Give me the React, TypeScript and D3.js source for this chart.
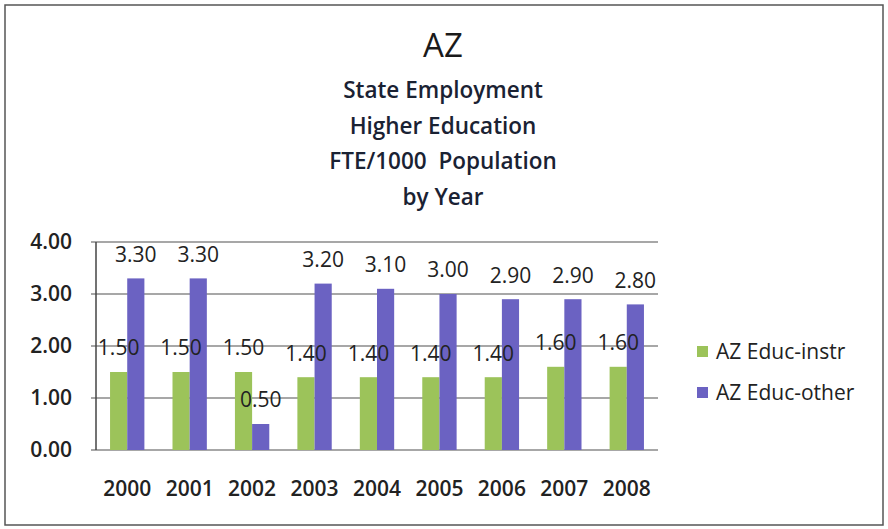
import React from "react";
import * as d3 from "d3";

const years = ["2000", "2001", "2002", "2003", "2004", "2005", "2006", "2007", "2008"];
const instr = [1.5, 1.5, 1.5, 1.4, 1.4, 1.4, 1.4, 1.6, 1.6];
const other = [3.3, 3.3, 0.5, 3.2, 3.1, 3.0, 2.9, 2.9, 2.8];
const seriesNames = ["AZ Educ-instr", "AZ Educ-other"];
const seriesColors = ["#9cc35a", "#6b62c2"];
const yTicks = [0, 1, 2, 3, 4];
const titleLines = ["State Employment", "Higher Education", "FTE/1000  Population", "by Year"];

export default function App() {
  const W = 888, H = 529;
  const left = 96, right = 658, top = 242, bottom = 450;
  const x = d3.scaleBand<string>().domain(years).range([left, right]).paddingInner(0.45).paddingOuter(0.225);
  const y = d3.scaleLinear().domain([0, 4]).range([bottom, top]);
  const bw = x.bandwidth() / 2;
  const font = "'Open Sans', sans-serif";
  const series = [instr, other];
  return (
    <svg width={W} height={H} style={{ position: "absolute", left: 0, top: 0, background: "#fff" }} fontFamily={font}>
      <rect x={5} y={5} width={878} height={520} fill="#fff" stroke="#555" strokeWidth={1.5} />
      <text x={443} y={57} textAnchor="middle" fontSize={33} fontWeight={500} fill="#1a1a1a">AZ</text>
      {titleLines.map((t, i) => (
        <text key={t} x={443} y={98 + i * 35.5} textAnchor="middle" fontSize={22.5} fontWeight={600} fill="#1a2233" xmlSpace="preserve">{t}</text>
      ))}
      {yTicks.map((t) => (
        <g key={t}>
          <line x1={left - 5} x2={right} y1={y(t)} y2={y(t)} stroke="#8a8a8a" strokeWidth={1.5} />
          <text x={72} y={y(t)} dy="0.35em" textAnchor="end" fontSize={21} fontWeight={600} fill="#222">{t.toFixed(2)}</text>
        </g>
      ))}
      <line x1={left} x2={left} y1={top} y2={bottom} stroke="#444" strokeWidth={1.5} />
      {series.map((vals, s) =>
        vals.map((v, i) => {
          const bx = (x(years[i]) as number) + s * bw;
          return <rect key={s + "-" + i} x={bx} y={y(v)} width={bw} height={bottom - y(v)} fill={seriesColors[s]} />;
        })
      )}
      {series.map((vals, s) =>
        vals.map((v, i) => {
          const bx = (x(years[i]) as number) + s * bw;
          return (
            <text key={"l" + s + "-" + i} x={bx + bw / 2} y={y(v) - 24} dy="0.35em" textAnchor="middle" fontSize={21} fontWeight={500} fill="#222">{v.toFixed(2)}</text>
          );
        })
      )}
      {years.map((yr) => (
        <text key={yr} x={(x(yr) as number) + x.bandwidth() / 2} y={489} dy="0.35em" textAnchor="middle" fontSize={21} fontWeight={600} fill="#222">{yr}</text>
      ))}
      {seriesNames.map((n, i) => (
        <g key={n}>
          <rect x={697} y={346 + i * 41} width={11} height={11} fill={seriesColors[i]} />
          <text x={716} y={352 + i * 41} dy="0.35em" fontSize={21} fontWeight={500} fill="#222">{n}</text>
        </g>
      ))}
    </svg>
  );
}
